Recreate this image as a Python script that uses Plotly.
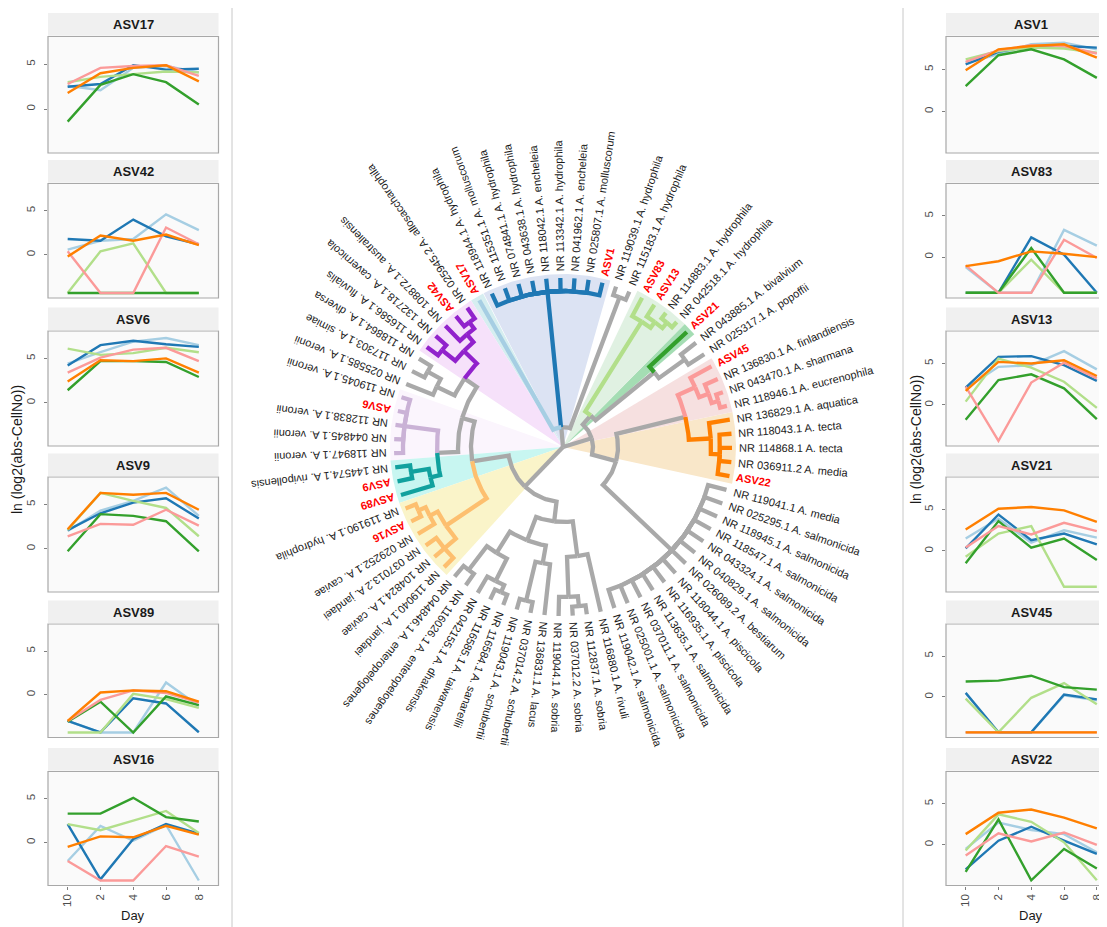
import numpy as np
import plotly.graph_objects as go

W, H = 1107, 927          # window size
OFF = 8                   # page body margin in the browser
FW, FH = W - OFF, H - OFF  # figure size so the page fits the window exactly

# ---------------- small multiples data ----------------
days = ["10", "2", "4", "6", "8"]
series_colors = ["#A6CEE3", "#1F78B4", "#B2DF8A", "#33A02C", "#FB9A99", "#FF7F00"]
FLOOR = -4.33

# order of each list: light blue, dark blue, light green, dark green, pink, orange
ASV17 = [[2.6, 2.1, 4.6, 4.8, 4.1], [2.5, 2.8, 4.9, 4.4, 4.5], [3.0, 3.6, 3.9, 4.2, 4.1],
         [-1.4, 2.7, 3.9, 3.0, 0.5], [2.8, 4.6, 4.8, 4.9, 3.7], [1.8, 4.0, 4.6, 4.9, 3.1]]
ASV42 = [[0.6, 1.6, 1.8, 4.6, 2.8], [1.8, 1.6, 4.0, 2.1, 1.2], [FLOOR, 0.4, 1.3, FLOOR, FLOOR],
         [FLOOR, FLOOR, FLOOR, FLOOR, FLOOR], [0.4, FLOOR, FLOOR, 3.1, 1.2], [-0.2, 2.2, 1.6, 2.3, 1.1]]
ASV6 = [[4.4, 5.7, 6.9, 7.3, 6.5], [4.2, 6.5, 7.0, 6.6, 6.3], [6.1, 5.4, 5.6, 6.2, 5.7],
        [1.4, 4.7, 4.7, 4.6, 2.9], [3.4, 5.1, 6.0, 6.2, 4.7], [2.4, 4.8, 4.7, 5.0, 3.4]]
ASV9 = [[2.0, 4.3, 5.4, 6.9, 3.7], [2.1, 4.0, 5.2, 5.7, 3.4], [2.1, 6.3, 5.4, 4.6, 1.4],
        [-0.3, 3.9, 3.7, 3.1, -0.3], [1.4, 2.8, 2.7, 4.4, 2.6], [2.2, 6.3, 6.1, 6.3, 4.4]]
ASV89 = [[-3.0, FLOOR, FLOOR, 1.4, -1.3], [-3.0, -4.3, -0.4, -1.0, -4.3], [FLOOR, FLOOR, 0.1, -0.5, -1.5],
         [-3.1, -0.8, FLOOR, -0.2, -1.2], [-3.0, -0.6, 0.5, 0.2, -0.9], [-3.0, 0.25, 0.5, 0.4, -0.8]]
ASV16 = [[-2.1, 1.9, 0.2, 2.0, FLOOR], [2.1, -4.2, 0.4, 2.1, 1.0], [2.1, 1.4, 2.5, 3.6, 1.1],
         [3.3, 3.3, 5.1, 2.9, 2.4], [-2.1, FLOOR, FLOOR, -0.4, -1.6], [-0.5, 0.7, 0.6, 1.9, 0.9]]
ASV1 = [[5.8, 6.8, 8.0, 8.2, 7.4], [5.6, 7.1, 7.8, 7.8, 7.6], [6.2, 7.2, 7.6, 7.5, 7.0],
        [3.0, 6.7, 7.4, 6.2, 4.0], [5.9, 7.3, 7.9, 7.8, 6.9], [4.9, 7.4, 7.8, 8.0, 6.4]]
ASV83 = [[-1.2, FLOOR, FLOOR, 3.3, 1.4], [FLOOR, FLOOR, 2.4, 0.3, FLOOR], [FLOOR, FLOOR, -0.3, FLOOR, FLOOR],
         [FLOOR, FLOOR, 1.1, FLOOR, FLOOR], [-1.0, FLOOR, FLOOR, 2.1, -0.1], [-1.1, -0.5, 0.7, 0.4, 0.0]]
ASV13 = [[2.0, 4.6, 4.8, 6.5, 4.3], [2.1, 5.8, 5.9, 4.8, 2.9], [0.4, 5.6, 4.5, 2.8, -0.35],
         [-1.8, 3.0, 3.7, 2.0, -1.7], [2.2, FLOOR, 2.7, 5.1, 3.2], [1.7, 5.2, 5.0, 5.4, 3.5]]
ASV21 = [[1.5, 3.9, 1.0, 2.5, 1.6], [0.3, 4.4, 1.3, 2.1, 0.8], [-0.7, 2.1, 3.0, FLOOR, FLOOR],
         [-1.5, 3.6, 0.4, 1.5, -1.1], [0.4, 3.0, 2.0, 3.4, 2.4], [2.6, 5.1, 5.3, 4.9, 3.5]]
ASV45 = [[FLOOR, FLOOR, FLOOR, 0.2, -0.4], [0.5, FLOOR, FLOOR, 0.3, -0.3], [-0.2, FLOOR, -0.1, 1.7, -0.9],
         [1.9, 2.0, 2.6, 1.2, 0.9], [FLOOR] * 5, [FLOOR] * 5]
ASV22 = [[-0.5, 2.7, 1.8, 1.3, -0.9], [-3.0, 0.5, 2.2, 0.5, -1.1], [-0.7, 3.7, 2.8, 0.3, FLOOR],
         [-3.3, 3.1, FLOOR, -0.5, -2.9], [-1.3, 1.4, 0.4, 1.5, 0.0], [1.3, 3.9, 4.3, 3.3, 2.0]]

left_names = ["ASV17", "ASV42", "ASV6", "ASV9", "ASV89", "ASV16"]
right_names = ["ASV1", "ASV83", "ASV13", "ASV21", "ASV45", "ASV22"]
panel_data = {"ASV17": ASV17, "ASV42": ASV42, "ASV6": ASV6, "ASV9": ASV9, "ASV89": ASV89,
              "ASV16": ASV16, "ASV1": ASV1, "ASV83": ASV83, "ASV13": ASV13, "ASV21": ASV21,
              "ASV45": ASV45, "ASV22": ASV22}

# ---------------- tree data ----------------
leaf_labels = [
    "ASV1", "NR 025807.1 A. molluscorum", "NR 041962.1 A. encheleia", "NR 113342.1 A. hydrophila",
    "NR 118042.1 A. encheleia", "NR 043638.1 A. hydrophila", "NR 074841.1 A. hydrophila",
    "NR 115351.1 A. molluscorum", "NR 118944.1 A. hydrophila", "ASV17",
    "NR 025945.2 A. allosaccharophila", "ASV42", "NR 108872.1 A. australiensis",
    "NR 132718.1 A. cavernicola", "NR 116586.1 A. fluvialis", "NR 118864.1 A. diversa",
    "NR 117303.1 A. simiae", "NR 025585.1 A. veronii", "NR 119045.1 A. veronii", "ASV6",
    "NR 112838.1 A. veronii", "NR 044845.1 A. veronii", "NR 118947.1 A. veronii",
    "NR 144574.1 A. rivipollensis", "ASV9", "ASV89", "NR 119190.1 A. hydrophila", "ASV16",
    "NR 029252.1 A. caviae", "NR 037013.2 A. jandaei", "NR 104824.1 A. caviae",
    "NR 119040.1 A. jandaei", "NR 044846.1 A. enteropelogenes", "NR 116026.1 A. enteropelogenes",
    "NR 042155.1 A. dhakensis", "NR 116585.1 A. taiwanensis", "NR 116584.1 A. sanarellii",
    "NR 119043.1 A. schubertii", "NR 037014.2 A. schubertii", "NR 136831.1 A. lacus",
    "NR 119044.1 A. sobria", "NR 037012.2 A. sobria", "NR 112837.1 A. sobria",
    "NR 116880.1 A. rivuli", "NR 119042.1 A. salmonicida", "NR 025001.1 A. salmonicida",
    "NR 037011.1 A. salmonicida", "NR 113635.1 A. salmonicida", "NR 116935.1 A. piscicola",
    "NR 118044.1 A. piscicola", "NR 026089.2 A. bestiarum", "NR 040829.1 A. salmonicida",
    "NR 043324.1 A. salmonicida", "NR 118547.1 A. salmonicida", "NR 118945.1 A. salmonicida",
    "NR 025295.1 A. salmonicida", "NR 119041.1 A. media", "ASV22", "NR 036911.2 A. media",
    "NR 114868.1 A. tecta", "NR 118043.1 A. tecta", "NR 136829.1 A. aquatica",
    "NR 118946.1 A. eucrenophila", "NR 043470.1 A. sharmana", "NR 136830.1 A. finlandiensis",
    "ASV45", "NR 025317.1 A. popoffii", "NR 043885.1 A. bivalvium", "ASV21",
    "NR 042518.1 A. hydrophila", "NR 114883.1 A. hydrophila", "ASV13", "ASV83",
    "NR 115183.1 A. hydrophila", "NR 119039.1 A. hydrophila",
]

# nested topology: (name, node depth, children); integers are leaf numbers (1-based)
tree = ("root", 0, [
    ("LEFT", 55, [
        ("LA", 92, [
            ("LA1", 105, [
                ("LA2", 120, [
                    ("PURPLE", 138, [("PU2", 148, [("PU3", 156, [11, 12]), 13]), ("PU4", 155, [14, 15])]),
                    ("G4", 140, [("G5", 155, [16, 17]), 18]),
                ]),
                ("LA3", 126, [
                    ("LILAC", 160, [19, 20, 21, 22, 23]),
                    ("TEAL", 136, [("T2", 154, [24, 25]), 26]),
                ]),
            ]),
            ("YELLOW", 141, [("Y2", 150, [("Y3", 158, [27, 28]), 29]), ("Y4", 156, [30, 31, 32])]),
        ]),
        ("LB", 75, [
            ("LB1", 100, [
                ("LB2", 125, [("B1", 155, [33, 34]), ("B2", 150, [35, ("B3", 158, [36, 37])])]),
                ("LB3", 118, [("B4", 158, [38, 39]), 40]),
            ]),
            ("LB4", 110, [("B5", 150, [41, ("B6", 160, [42, 43])]), 44]),
        ]),
    ]),
    ("RIGHT", 30, [
        ("R1", 55, [
            ("GCOMB", 150, list(range(45, 58))),
            ("X", 126, [
                ("ORANGE", 148, [("O2", 157, [58, 59, 60, 61]), 62]),
                ("PINK", 145, [("P2", 155, [("P3", 162, [63, 64]), 65]), 66]),
            ]),
        ]),
        ("GR", 42, [
            ("N21", 118, [("GP2", 150, [67, 68]), 69]),
            ("LG", 148, [("L2", 155, [("L3", 162, [70, 71]), 72]), 73]),
        ]),
    ]),
    ("TOP", 20, [
        ("GPAIR", 160, [74, 75]),
        ("BLUE", 156, [1, 2, 3, 4, 5, 6, 7, 8, 9]),
        10,
    ]),
])

clade_colors = {"BLUE": "#1F78B4", 10: "#A6CEE3", "LG": "#B2DF8A", 69: "#33A02C",
                "PINK": "#FB9A99", "ORANGE": "#FF7F00", "YELLOW": "#FDBF6F",
                "TEAL": "#11A19E", "LILAC": "#CAB2D6", "PURPLE": "#9122CC"}
GRAY = "#A9A9A9"

# highlighted clades: (first leaf, last leaf, fill)
wedges = [(1, 9, "#DCE3F3"), (10, 10, "#D6EEF0"), (11, 15, "#F6E1FA"), (19, 23, "#FBF5FD"),
          (24, 26, "#C8F6F1"), (27, 32, "#FAF4C9"), (58, 62, "#F9E7C9"), (63, 66, "#F6E0E0"),
          (69, 69, "#A4DDB3"), (70, 73, "#E0F1E2")]

START_ANGLE, STEP = 76.5, 4.8
TIP_R, WEDGE_R, LABEL_R = 169, 173, 176


def u_of(i):
    return i if i >= 11 else i + 75


def ang(u):
    return np.deg2rad(START_ANGLE + (u - 1) * STEP)


edges = []


def walk(node, color):
    if isinstance(node, int):
        return TIP_R, float(u_of(node))
    name, r, kids = node
    res = []
    for kd in kids:
        key = kd if isinstance(kd, int) else kd[0]
        kc = clade_colors.get(key, color)
        res.append((walk(kd, kc), kc))
    u = float(np.mean([p[1] for p, _ in res]))
    for (rc, uc), kc in res:
        edges.append((r, u, rc, uc, kc))
    return r, u


walk(tree, GRAY)


def edge_xy(rp, up, rc, uc):
    n = max(2, int(abs(uc - up) * STEP) + 2)
    t = np.linspace(ang(up), ang(uc), n)
    xs = list(rp * np.cos(t)) + [rc * np.cos(ang(uc))]
    ys = list(rp * np.sin(t)) + [rc * np.sin(ang(uc))]
    return xs, ys


def sfx(k):
    return "" if k == 1 else str(k)


def px(p):   # window pixel x -> paper fraction
    return (p - OFF) / FW


def py(p):   # window pixel y (from top) -> paper fraction
    return 1 - (p - OFF) / FH


fig = go.Figure()

# wedges
for i0, i1, col in wedges:
    t = np.linspace(ang(u_of(i0) - 0.5), ang(u_of(i1) + 0.5), 40)
    xs = [0] + list(WEDGE_R * np.cos(t)) + [0]
    ys = [0] + list(WEDGE_R * np.sin(t)) + [0]
    fig.add_trace(go.Scatter(x=xs, y=ys, mode="lines", fill="toself", fillcolor=col,
                             line=dict(width=0, color=col), xaxis="x13", yaxis="y13",
                             hoverinfo="skip", showlegend=False))

# branches grouped by colour (grey first)
colors_in_order = [GRAY] + [c for c in dict.fromkeys(e[4] for e in edges) if c != GRAY]
for col in colors_in_order:
    X, Y = [], []
    for rp, up, rc, uc, c in edges:
        if c != col:
            continue
        xs, ys = edge_xy(rp, up, rc, uc)
        X += xs + [None]
        Y += ys + [None]
    fig.add_trace(go.Scatter(x=X, y=Y, mode="lines", line=dict(color=col, width=4.3),
                             xaxis="x13", yaxis="y13", hoverinfo="skip", showlegend=False))

# label widths (Arial / Liberation Sans metrics, per 1000 em)
REG = {" ": 278, ".": 278, "A": 667, "N": 722, "R": 722, "S": 667, "V": 667, "a": 556, "b": 556,
       "c": 500, "d": 556, "e": 556, "f": 278, "g": 556, "h": 556, "i": 222, "j": 222, "k": 500,
       "l": 222, "m": 833, "n": 556, "o": 556, "p": 556, "q": 556, "r": 333, "s": 500, "t": 278,
       "u": 556, "v": 500, "w": 722, "x": 500, "y": 500, "z": 500}
BOLD = {"A": 722, "S": 667, "V": 667}


def text_w(s, size, bold):
    tot = 0
    for ch in s:
        if ch.isdigit():
            tot += 556
        elif bold and ch in BOLD:
            tot += BOLD[ch]
        else:
            tot += REG.get(ch, 556)
    return tot * size / 1000.0


LABEL_SIZE = 11
annotations = []
for i, lab in enumerate(leaf_labels, start=1):
    u = u_of(i)
    th = START_ANGLE + (u - 1) * STEP
    is_asv = lab.startswith("ASV")
    w = text_w(lab, LABEL_SIZE, is_asv)
    rc = LABEL_R + w / 2
    ta = -(th % 360)
    if ta <= -180:
        ta += 360
    annotations.append(dict(
        x=rc * np.cos(np.deg2rad(th)), y=rc * np.sin(np.deg2rad(th)), xref="x13", yref="y13",
        text=("<b>%s</b>" % lab) if is_asv else lab, showarrow=False, textangle=ta,
        xanchor="center", yanchor="middle",
        font=dict(size=LABEL_SIZE, color="#FF0000" if is_asv else "#1A1A1A",
                  family="Liberation Sans, Arial, sans-serif")))

# ---------------- panels ----------------
plot_top = [36.5, 183.5, 331, 477, 624, 771.5]
plot_bot = [153, 298, 446, 592, 737.5, 885.5]
STRIP_H = 23.5
LEFT_X = (48, 218.5)
RIGHT_X = (946, 1107)
LEFT_YR = [-4.9, 8.1]
RIGHT_YR = [-4.96, 8.93]
PX_PER_UNIT = (LEFT_X[1] - LEFT_X[0]) / 5.2
RIGHT_FULL = 1116  # right panels continue past the window edge

shapes = []
layout_axes = {}
k = 0
for side, names in (("L", left_names), ("R", right_names)):
    for row, nm in enumerate(names):
        k += 1
        s = sfx(k)
        x0, x1 = LEFT_X if side == "L" else RIGHT_X
        xr = [-0.6, 4.6] if side == "L" else [-0.6, -0.6 + (x1 - x0) / PX_PER_UNIT]
        yr = LEFT_YR if side == "L" else RIGHT_YR
        bottom = row == len(names) - 1
        layout_axes["xaxis" + s] = dict(
            domain=[px(x0), min(1.0, px(x1))], range=xr, anchor="y" + s, type="category",
            categoryorder="array", categoryarray=days, showgrid=False, zeroline=False,
            showline=False, ticks="outside" if bottom else "", ticklen=3, tickcolor="#7F7F7F",
            showticklabels=bottom, tickangle=-90, tickfont=dict(size=11.5, color="#4D4D4D"),
            fixedrange=True)
        layout_axes["yaxis" + s] = dict(
            domain=[py(plot_bot[row]), py(plot_top[row])], range=yr, anchor="x" + s,
            tickvals=[0, 5], ticktext=["0", "5"], tickangle=-90, showgrid=False, zeroline=False,
            showline=False, ticks="outside", ticklen=3, tickcolor="#7F7F7F",
            tickfont=dict(size=11.5, color="#4D4D4D"), ticklabelstandoff=4, fixedrange=True)
        # panel background + border
        shapes.append(dict(type="rect", xref="x%s domain" % s, yref="y%s domain" % s,
                           x0=0, x1=1 if side == "L" else 1.2, y0=0, y1=1,
                           fillcolor="#FAFAFA", line=dict(color="#A8A8A8", width=1.2), layer="below"))
        # strip
        xe = x1 if side == "L" else RIGHT_FULL
        shapes.append(dict(type="rect", xref="paper", yref="paper", x0=px(x0), x1=px(xe),
                           y0=py(plot_top[row] - 0.8), y1=py(plot_top[row] - STRIP_H),
                           fillcolor="#F0F0F0", line=dict(width=0), layer="below"))
        cx = (x0 + xe) / 2
        annotations.append(dict(x=px(cx), y=py(plot_top[row] - STRIP_H / 2), xref="paper",
                                yref="paper", text="<b>%s</b>" % nm, showarrow=False,
                                xanchor="center", yanchor="middle",
                                font=dict(size=13, color="#1A1A1A")))
        for vals, col in zip(panel_data[nm], series_colors):
            fig.add_trace(go.Scatter(x=days, y=vals, mode="lines", line=dict(color=col, width=2.4),
                                     xaxis="x" + s, yaxis="y" + s, hoverinfo="skip",
                                     showlegend=False))

# axis titles
for xpx, ypx in ((17, 450), (916, 440)):
    annotations.append(dict(x=px(xpx), y=py(ypx), xref="paper", yref="paper",
                            text="ln (log2(abs-CellNo))", textangle=-90, showarrow=False,
                            xanchor="center", yanchor="middle",
                            font=dict(size=14, color="#1A1A1A")))
for xpx in (133, 1031):
    annotations.append(dict(x=px(xpx), y=py(915), xref="paper", yref="paper", text="Day",
                            showarrow=False, xanchor="center", yanchor="middle",
                            font=dict(size=13, color="#1A1A1A")))

# separators
for xpx in (232, 903):
    shapes.append(dict(type="line", xref="paper", yref="paper", x0=px(xpx), x1=px(xpx),
                       y0=0, y1=py(5), line=dict(color="#C8C8C8", width=1)))

CX, CY = 563 - OFF, 447 - OFF   # tree centre inside the figure
layout_axes["xaxis13"] = dict(domain=[0, 1], range=[-CX, FW - CX], visible=False, fixedrange=True,
                              anchor="y13")
layout_axes["yaxis13"] = dict(domain=[0, 1], range=[-(FH - CY), CY], visible=False, fixedrange=True,
                              anchor="x13")

fig.update_layout(width=FW, height=FH, margin=dict(l=0, r=0, t=0, b=0),
                  paper_bgcolor="white", plot_bgcolor="rgba(0,0,0,0)",
                  font=dict(family="Liberation Sans, Arial, sans-serif"),
                  shapes=shapes, annotations=annotations, showlegend=False, **layout_axes)
fig.write_html("out.html")
